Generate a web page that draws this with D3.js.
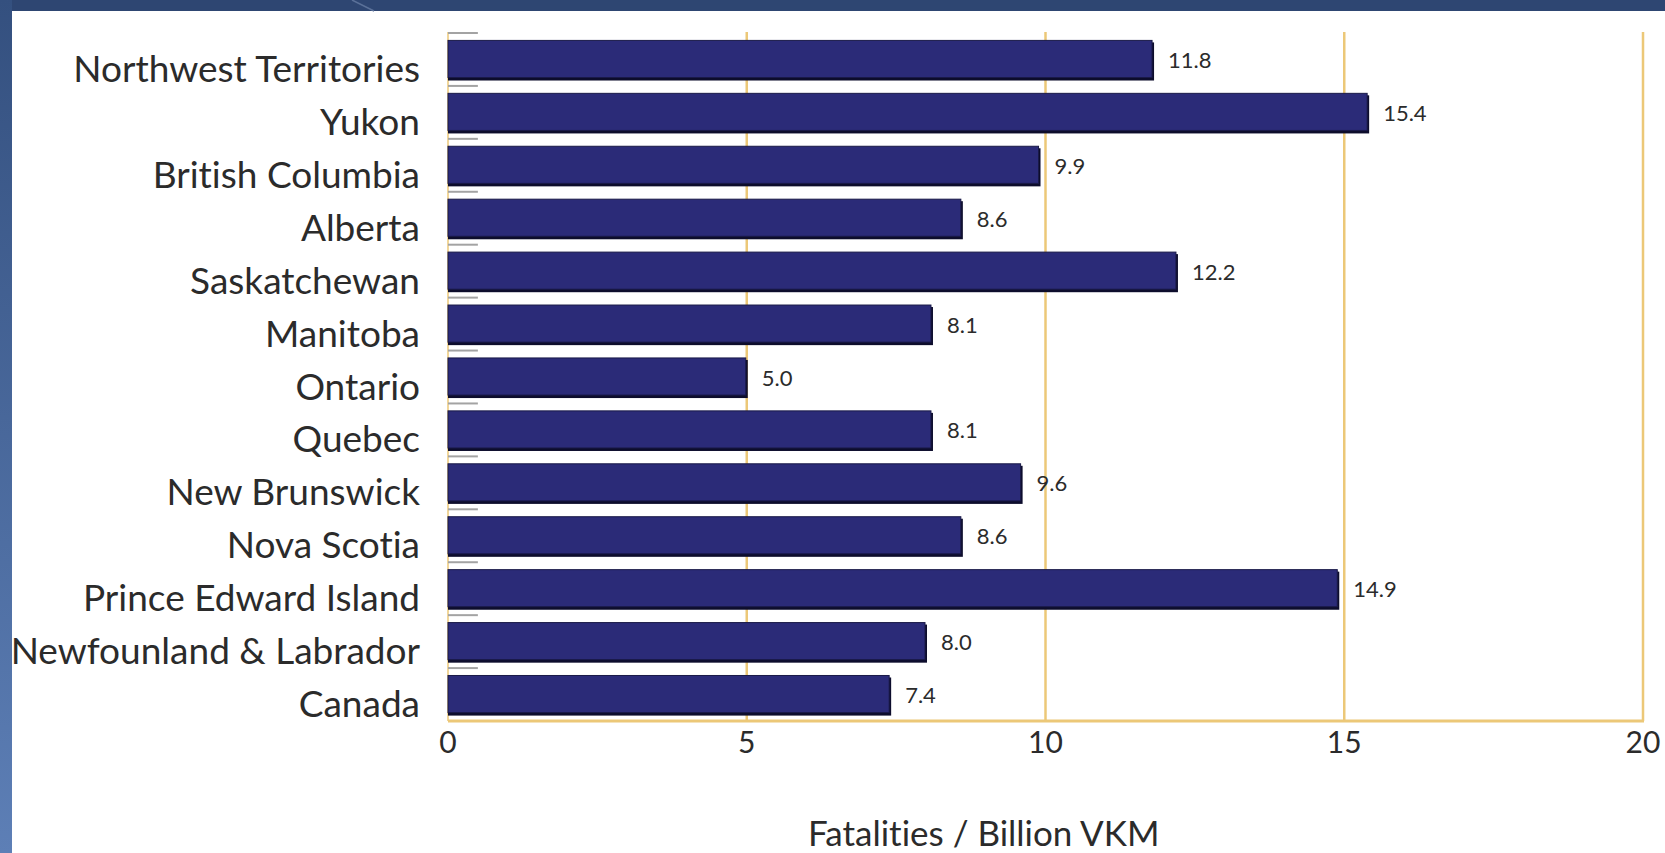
<!DOCTYPE html>
<html>
<head>
<meta charset="utf-8">
<script src="https://cdn.jsdelivr.net/npm/d3@7"></script>
<style>
  html, body { margin: 0; padding: 0; background: #fff; }
  svg { display: block; }
  text { font-family: Lato, "Noto Sans", sans-serif; fill: #2b2b2b; font-variant-ligatures: none; }
</style>
</head>
<body>
<svg id="chart" width="1665" height="853"></svg>
<script>
// data
let regions = ["Northwest Territories", "Yukon", "British Columbia", "Alberta",
               "Saskatchewan", "Manitoba", "Ontario", "Quebec", "New Brunswick",
               "Nova Scotia", "Prince Edward Island", "Newfounland & Labrador", "Canada"];
let fatalities = [11.8, 15.4, 9.9, 8.6, 12.2, 8.1, 5.0, 8.1, 9.6, 8.6, 14.9, 8.0, 7.4];
let xTicks = [0, 5, 10, 15, 20];
let axisTitle = "Fatalities / Billion VKM";

let width = 1665,
    height = 853,
    plot = {left: 448, right: 1643, top: 33, bottom: 721},
    gold = "#ecc878";

let svg = d3.select("#chart");

function make_scales() {
  return {
    x: d3.scaleLinear()
         .domain([0, 20])
         .range([plot.left, plot.right]),
    y: d3.scaleBand()
         .domain(regions)
         .range([plot.top, plot.bottom])
         .paddingInner(0.28)
         .paddingOuter(0.14)
  }
}

function draw_frame() {
  let defs = svg.append("defs");
  let grad = defs.append("linearGradient")
    .attr("id", "sideGrad")
    .attr("x1", 0).attr("y1", 0).attr("x2", 0).attr("y2", 1);
  grad.append("stop").attr("offset", 0).attr("stop-color", "#34507f");
  grad.append("stop").attr("offset", 1).attr("stop-color", "#5d7fb6");

  svg.append("rect")
    .attr("width", width).attr("height", 11)
    .attr("fill", "#2e4672");
  svg.append("line")
    .attr("x1", 352).attr("y1", 0).attr("x2", 374).attr("y2", 11)
    .attr("stroke", "#5b7199").attr("stroke-width", 1.5);
  svg.append("rect")
    .attr("width", 12).attr("height", height)
    .attr("fill", "url(#sideGrad)");
}

function draw_grid(scales) {
  let g = svg.append("g").attr("id", "grid");

  g.selectAll("line.v")
    .data(xTicks).enter()
    .append("line")
    .attr("class", "v")
    .attr("x1", d => scales.x(d)).attr("x2", d => scales.x(d))
    .attr("y1", plot.top - 1).attr("y2", plot.bottom)
    .attr("stroke", gold)
    .attr("stroke-width", d => d === 0 ? 1.5 : 2.5);

  g.append("line")
    .attr("x1", scales.x(0)).attr("x2", scales.x(20) + 1)
    .attr("y1", plot.bottom).attr("y2", plot.bottom)
    .attr("stroke", gold).attr("stroke-width", 3);

  // little grey ticks at every band boundary
  let step = scales.y.step();
  g.selectAll("line.tick")
    .data(regions).enter()
    .append("line")
    .attr("class", "tick")
    .attr("x1", scales.x(0)).attr("x2", scales.x(0.5))
    .attr("y1", d => scales.y(d) - step * 0.14)
    .attr("y2", d => scales.y(d) - step * 0.14)
    .attr("stroke", "#a3a3a3").attr("stroke-width", 2);
}

function draw_bars(scales) {
  let g = svg.append("g").attr("id", "bars");
  let bw = scales.y.bandwidth();

  // dark shadow under each bar
  g.selectAll("rect.shadow")
    .data(fatalities).enter()
    .append("rect")
    .attr("class", "shadow")
    .attr("x", scales.x(0))
    .attr("y", (d, i) => scales.y(regions[i]) + 2)
    .attr("width", d => scales.x(d) - scales.x(0) + 1)
    .attr("height", bw)
    .attr("fill", "#0d0d2c");

  g.selectAll("rect.bar")
    .data(fatalities).enter()
    .append("rect")
    .attr("class", "bar")
    .attr("x", scales.x(0))
    .attr("y", (d, i) => scales.y(regions[i]))
    .attr("width", d => scales.x(d) - scales.x(0) - 1)
    .attr("height", bw - 1)
    .attr("fill", "#2b2b78")
    .attr("stroke", "#1a1a48")
    .attr("stroke-width", 1);

  g.selectAll("text.value")
    .data(fatalities).enter()
    .append("text")
    .attr("class", "value")
    .attr("x", d => scales.x(d) + 15)
    .attr("y", (d, i) => scales.y(regions[i]) + bw / 2)
    .attr("dominant-baseline", "central")
    .style("font-size", "22px")
    .text(d => d.toFixed(1));
}

function add_axes(scales) {
  let bw = scales.y.bandwidth();

  svg.append("g")
    .attr("id", "y_labels")
    .selectAll("text")
    .data(regions).enter()
    .append("text")
    .attr("x", scales.x(0) - 28)
    .attr("y", d => scales.y(d) + bw / 2 + 8)
    .attr("text-anchor", "end")
    .attr("dominant-baseline", "central")
    .style("font-size", "37px")
    .text(d => d);

  svg.append("g")
    .attr("id", "x_labels")
    .selectAll("text")
    .data(xTicks).enter()
    .append("text")
    .attr("x", d => scales.x(d))
    .attr("y", plot.bottom + 20)
    .attr("text-anchor", "middle")
    .attr("dominant-baseline", "central")
    .style("font-size", "30px")
    .text(d => d);

  svg.append("text")
    .attr("x", scales.x(9) - 2)
    .attr("y", 846)
    .attr("text-anchor", "middle")
    .style("font-size", "35px")
    .text(axisTitle);
}

let scales = make_scales();
draw_frame();
draw_grid(scales);
draw_bars(scales);
add_axes(scales);
</script>
</body>
</html>
